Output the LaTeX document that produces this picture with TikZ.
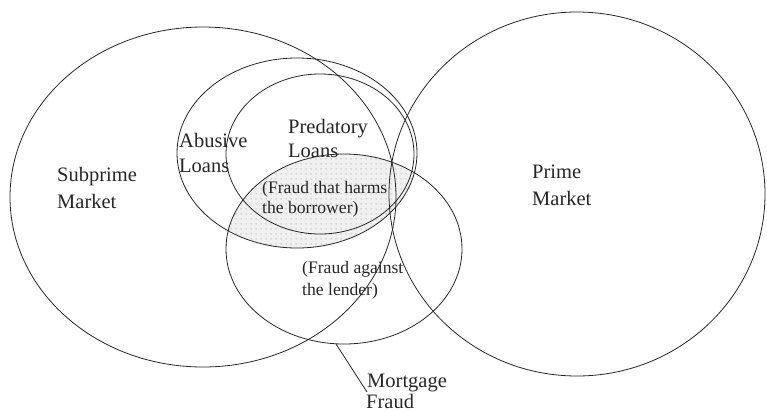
\documentclass[tikz,border=0pt]{standalone}
\usepackage{fontspec}
\setmainfont{Liberation Serif}
\usetikzlibrary{patterns.meta}
\tikzdeclarepattern{
  name=sparsedots,
  type=uncolored,
  bottom left={(0pt,0pt)},
  top right={(4.6pt,4.6pt)},
  tile size={(4.6pt,4.6pt)},
  code={\fill (2.3pt,2.3pt) circle (0.55pt);}
}
\tikzset{
  ring/.style={draw=black!85, line width=0.8bp},
  bigtxt/.style={anchor=base west, inner sep=0pt, text=black!85, font=\fontsize{20.5bp}{27bp}\selectfont},
  smalltxt/.style={anchor=base west, inner sep=0pt, text=black!85, font=\fontsize{17.6bp}{20bp}\selectfont},
  leader/.style={draw=black!85, line width=0.8bp}
}
\begin{document}
\begin{tikzpicture}[x=1bp,y=-1bp]
\useasboundingbox (0,0) rectangle (767,411);
% shaded region: fraud inside abusive loans
\begin{scope}
  \clip (297,153) ellipse [x radius=120, y radius=95];
  \fill[black!6] (344,249) ellipse [x radius=118, y radius=95];
  \fill[pattern={sparsedots}, pattern color=black!45] (344,249) ellipse [x radius=118, y radius=95];
\end{scope}
% ellipses
\draw[ring] (203,197) ellipse [x radius=193, y radius=170]; % subprime
\draw[ring] (577,194) ellipse [x radius=188, y radius=182]; % prime
\draw[ring] (297,153) ellipse [x radius=120, y radius=95];  % abusive
\draw[ring] (320,154) ellipse [x radius=94, y radius=80];   % predatory
\draw[ring] (344,249) ellipse [x radius=118, y radius=95];  % mortgage fraud
% labels
\node[bigtxt] (sub1) at (57,181) {Subprime};
\node[bigtxt] (sub2) at (57,208) {Market};
\node[bigtxt] (pri1) at (532,178) {Prime};
\node[bigtxt] (pri2) at (532,205) {Market};
\node[bigtxt] (abu1) at (179,147) {Abusive};
\node[bigtxt] (abu2) at (179,172) {Loans};
\node[bigtxt] (pre1) at (288,133) {Predatory};
\node[bigtxt] (pre2) at (288,157) {Loans};
\node[smalltxt] (fhb1) at (262,193) {(Fraud that harms};
\node[smalltxt] (fhb2) at (262,213) {the borrower)};
\node[smalltxt] (fal1) at (302,273) {(Fraud against};
\node[smalltxt] (fal2) at (302,295) {the lender)};
\node[bigtxt] (mf1) at (367,387) {Mortgage};
\node[bigtxt] (mf2) at (366,408) {Fraud};
% leader line
\coordinate (lstart) at (336,344);
\coordinate (lend) at (367,392);
\draw[leader] (lstart) -- (lend);
\end{tikzpicture}
\end{document}
